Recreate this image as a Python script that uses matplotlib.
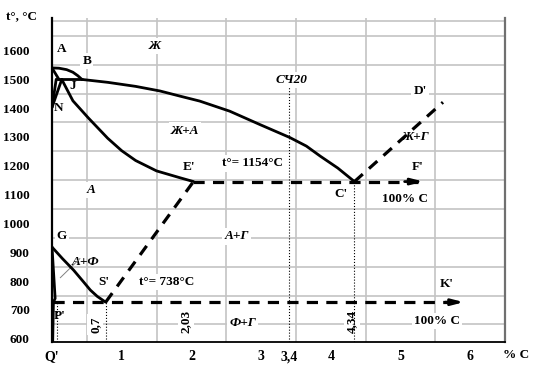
import numpy as np
import matplotlib
matplotlib.use("Agg")
import matplotlib.pyplot as plt

plt.rcParams['font.family'] = ['Liberation Serif', 'DejaVu Serif']
plt.rcParams['font.weight'] = 'bold'

# --- data (x: % C, y: temperature °C) ---
x_ticks = [0, 1, 2, 3, 3.4, 4, 5, 6]
x_tick_labels = ["Q'", "1", "2", "3", "3,4", "4", "5", "6"]
y_ticks = [600, 700, 800, 900, 1000, 1100, 1200, 1300, 1400, 1500, 1600]

# liquidus A-B (delta region cap)
ab_x = [0, 0.1, 0.21, 0.3, 0.37, 0.43]
ab_t = [1539, 1538, 1533, 1524, 1512, 1499]
# peritectic line H-B
hb_x = [0.06, 0.43]
hb_t = [1499, 1499]
# A-H, H-N, J-N
ah_x = [0, 0.1]
ah_t = [1539, 1499]
hn_x = [0.06, 0.0]
hn_t = [1499, 1402]
jn_x = [0.14, 0.0]
jn_t = [1499, 1402]
# liquidus B-C
bc_x = [0.43, 0.8, 1.2, 1.55, 1.84, 2.12, 2.55, 2.98, 3.41, 3.65, 3.85, 4.1, 4.34]
bc_t = [1499, 1489, 1475, 1459, 1441, 1424, 1389, 1343, 1298, 1268, 1233, 1192, 1145]
# solidus J-E
je_x = [0.14, 0.3, 0.52, 0.8, 1.0, 1.2, 1.5, 1.84, 2.03]
je_t = [1499, 1425, 1366, 1295, 1252, 1218, 1182, 1158, 1145]
# G-S and G-P-Q
gs_x = [0, 0.15, 0.31, 0.45, 0.55, 0.65, 0.77]
gs_t = [918, 878, 838, 798, 769, 747, 727]
gpq_x = [0, 0.045, 0.02, 0.01]
gpq_t = [918, 740, 727, 590]
# dashed (stable system) lines
es_x = [0.77, 2.03]
es_t = [727, 1145]
cd_x = [4.34, 5.61]
cd_t = [1145, 1420]
ecf_x = [2.03, 5.37]
ecf_t = [1145, 1145]
psk_x = [0.02, 5.95]
psk_t = [727, 727]
# dotted verticals (x, top)
dotted = [(0.067, 727), (0.77, 727), (3.4, 1475), (4.34, 1145)]

fig = plt.figure(figsize=(5.42, 3.72), dpi=100)
ax = fig.add_axes([52 / 542, 1 - 341.7 / 372, 453 / 542, 323.7 / 372])
ax.set_xlim(0, 6.5)
ax.set_ylim(590, 1712)

# grid on minor ticks, labels on major ticks
ax.set_xticks(np.arange(0.5, 6.51, 0.5), minor=True)
ax.set_yticks(np.arange(600, 1701, 50), minor=True)
ax.set_xticks(x_ticks)
ax.set_xticklabels(x_tick_labels)
ax.set_yticks(y_ticks)
ax.grid(which='minor', color='#c4c4c4', lw=1.2, zorder=0)
ax.grid(which='major', visible=False)
ax.tick_params(which='both', length=0)
ax.tick_params(axis='y', pad=16, labelsize=9.5)
ax.tick_params(axis='x', pad=6, labelsize=10)
for lab in ax.get_xticklabels() + ax.get_yticklabels():
    lab.set_fontweight('bold')
ax.spines['top'].set_visible(False)
ax.spines['left'].set_linewidth(1.6)
ax.spines['bottom'].set_linewidth(1.3)
ax.spines['right'].set_color('#707070')
ax.spines['right'].set_linewidth(1.6)

solid = dict(color='black', lw=2.0, zorder=4, solid_capstyle='round',
             solid_joinstyle='round')
for xs, ts in [(ab_x, ab_t), (hb_x, hb_t), (ah_x, ah_t), (hn_x, hn_t),
               (jn_x, jn_t), (bc_x, bc_t), (je_x, je_t), (gs_x, gs_t),
               (gpq_x, gpq_t)]:
    ax.plot(xs, ts, **solid)

dash = dict(color='black', lw=2.3, ls=(0, (3.5, 2.6)), zorder=4)
ax.plot(es_x, es_t, **dash)
ax.plot(cd_x, cd_t, **dash)
ax.plot(ecf_x[0:1] + [ecf_x[1] - 0.12], ecf_t, **dash)
ax.plot(psk_x[0:1] + [psk_x[1] - 0.12], psk_t, **dash)
for xs, ts in [(ecf_x, ecf_t), (psk_x, psk_t)]:
    ax.annotate('', xy=(xs[1], ts[1]), xytext=(xs[1] - 0.35, ts[1]),
                arrowprops=dict(arrowstyle='-|>,head_length=0.7,head_width=0.18',
                                color='black', lw=2.0), zorder=4)

for xv, top in dotted:
    ax.plot([xv, xv], [590, top], color='black', lw=0.8, ls=':', zorder=3)

box = dict(facecolor='white', edgecolor='none', pad=1.5)
def label(x, t, s, italic=False, size=9.5, rot=0, bg=True):
    ax.text(x, t, s, ha='center', va='center', fontsize=size, fontweight='bold',
            style='italic' if italic else 'normal', rotation=rot,
            bbox=box if bg else None, zorder=2)

label(0.14, 1603, "A")
label(0.5, 1562, "B")
label(0.29, 1475, "J", bg=False)
label(0.09, 1399, "N", bg=False)
label(1.48, 1614, "Ж", italic=True)
label(1.91, 1322, "Ж+А", italic=True)
label(1.97, 1194, "E'")
label(2.88, 1208, "t°= 1154°C")
label(4.15, 1103, "C'")
label(5.24, 1194, "F'")
label(5.07, 1086, "100% C")
label(5.28, 1458, "D'")
label(5.21, 1301, "Ж+Г", italic=True)
label(3.44, 1496, "СЧ20", italic=True)
label(0.56, 1117, "А", italic=True)
label(0.14, 958, "G")
label(2.65, 955, "А+Г", italic=True)
label(0.48, 867, "А+Ф", italic=True, bg=False)
label(0.75, 798, "S'")
label(1.65, 798, "t°= 738°C")
label(5.67, 791, "K'")
label(5.52, 663, "100% C")
label(2.74, 656, "Ф+Г", italic=True)
label(0.11, 678, "P'", bg=False)
label(0.62, 649, "0,7", rot=90)
label(1.92, 660, "2,03", rot=90)
label(4.31, 660, "4,34", rot=90)
# small leader line inside the А+Ф field
ax.plot([0.12, 0.4], [812, 878], color='#808080', lw=0.7, zorder=2)

fig.text(21 / 542, 1 - 16 / 372, "t°, °C", ha='center', va='center',
         fontsize=9.5, fontweight='bold')
fig.text(516 / 542, 1 - 355 / 372, "% C", ha='center', va='center',
         fontsize=9.5, fontweight='bold')

fig.savefig("out.png", dpi=100)
